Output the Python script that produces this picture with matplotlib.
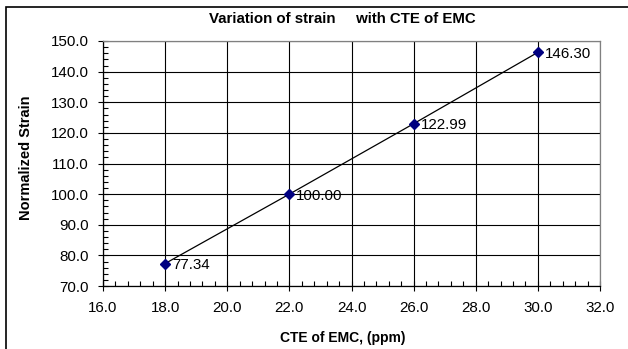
import matplotlib
matplotlib.use("Agg")
import matplotlib.pyplot as plt
from matplotlib.ticker import MultipleLocator, FormatStrFormatter
from matplotlib.patches import Rectangle

cte = [18.0, 22.0, 26.0, 30.0]
strain = [77.34, 100.00, 122.99, 146.30]
labels = ["77.34", "100.00", "122.99", "146.30"]

plt.rcParams['font.family'] = ['Liberation Sans', 'DejaVu Sans']

fig = plt.figure(figsize=(6.28, 3.49), dpi=100)
W, H = 628, 349
ax = fig.add_axes([103 / W, 1 - 286 / H, (600 - 103) / W, (286 - 41) / H])

ax.plot(cte, strain, color='black', lw=0.9, zorder=3)
ax.plot(cte, strain, linestyle='none', marker='D', ms=5, color='#000080', zorder=4)
for x, y, t in zip(cte, strain, labels):
    ax.annotate(t, (x, y), xytext=(5, -1), textcoords='offset points',
                ha='left', va='center', fontsize=10.9, zorder=5)

ax.set_xlim(16, 32)
ax.set_ylim(70, 150)
ax.xaxis.set_major_locator(MultipleLocator(2))
ax.xaxis.set_minor_locator(MultipleLocator(0.4))
ax.yaxis.set_major_locator(MultipleLocator(10))
ax.yaxis.set_minor_locator(MultipleLocator(2))
ax.xaxis.set_major_formatter(FormatStrFormatter('%.1f'))
ax.yaxis.set_major_formatter(FormatStrFormatter('%.1f'))
ax.grid(True, which='major', color='black', lw=0.8)
ax.set_axisbelow(True)
ax.tick_params(which='major', direction='inout', length=7, width=0.8, labelsize=10.9)
ax.tick_params(axis='y', which='major', pad=6.5)
ax.tick_params(axis='x', which='major', pad=7.5)
ax.tick_params(which='minor', direction='in', length=3.5, width=0.8)

for s in ['left', 'bottom']:
    ax.spines[s].set_color('black')
    ax.spines[s].set_linewidth(0.9)
for s in ['top', 'right']:
    ax.spines[s].set_color('#808080')
    ax.spines[s].set_linewidth(0.9)

fig.text(342 / W, 1 - 19 / H, "Variation of strain     with CTE of EMC", fontsize=10.8,
         fontweight='bold', ha='center', va='center')
fig.text(343 / W, 1 - 338 / H, "CTE of EMC, (ppm)", fontsize=10, fontweight='bold',
         ha='center', va='center')
fig.text(26 / W, 1 - 158 / H, "Normalized Strain", fontsize=10.5, fontweight='bold',
         ha='center', va='center', rotation=90)

fig.patches.append(Rectangle((6 / W, -0.1), 1.2, 1 - 7 / H + 0.1, transform=fig.transFigure,
                             fill=False, edgecolor='black', lw=1.2))

fig.savefig("out.png", dpi=100)
